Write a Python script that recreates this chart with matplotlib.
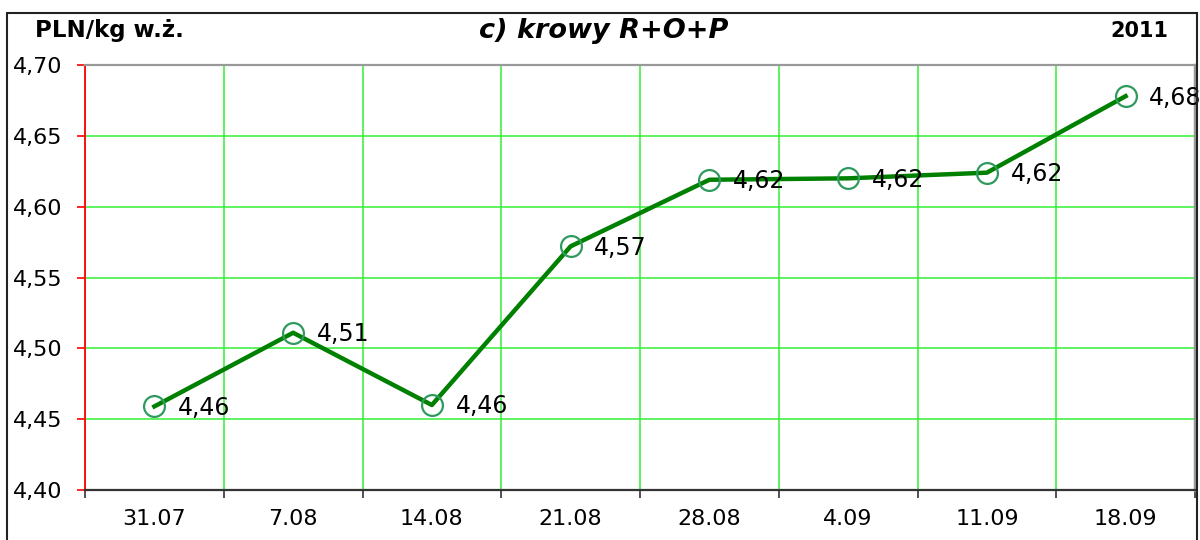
import matplotlib
matplotlib.use("Agg")
import matplotlib.pyplot as plt
from matplotlib.patches import Rectangle
from matplotlib.ticker import FuncFormatter

plt.rcParams['font.family'] = ['DejaVu Sans']

dates = ['31.07', '7.08', '14.08', '21.08', '28.08', '4.09', '11.09', '18.09']
prices = [4.459, 4.511, 4.460, 4.572, 4.619, 4.620, 4.624, 4.678]
labels = ['4,46', '4,51', '4,46', '4,57', '4,62', '4,62', '4,62', '4,68']

fig = plt.figure(figsize=(12, 5.4), dpi=100)
ax = fig.add_axes([85 / 1200, 1 - 490 / 540, 1110 / 1200, 425 / 540])

# outer frame
fig.patches.append(Rectangle((7 / 1200, -0.05), 1190 / 1200, 1.05 - 13 / 540,
                             transform=fig.transFigure, fill=False,
                             edgecolor='#222222', linewidth=1.5))

x = list(range(len(dates)))
ax.plot(x, prices, color='#008000', linewidth=3.2, zorder=3)
ax.plot(x, prices, linestyle='none', marker='o', markersize=15,
        markerfacecolor='none', markeredgecolor='#2e9a5e', markeredgewidth=1.6, zorder=4)
for xi, yi, lab in zip(x, prices, labels):
    ax.annotate(lab, (xi, yi), xytext=(17, -1), textcoords='offset points',
                ha='left', va='center', fontsize=17, color='black', zorder=5)

ax.set_xlim(-0.5, len(dates) - 0.5)
ax.set_ylim(4.40, 4.70)
ax.set_yticks([4.40, 4.45, 4.50, 4.55, 4.60, 4.65, 4.70])
ax.yaxis.set_major_formatter(FuncFormatter(lambda v, p: f'{v:.2f}'.replace('.', ',')))

ax.set_xticks([i - 0.5 for i in range(len(dates) + 1)])
ax.set_xticklabels([])
ax.set_xticks(x, minor=True)
ax.set_xticklabels(dates, minor=True)
ax.tick_params(axis='x', which='minor', length=0, pad=14, labelsize=16)
ax.tick_params(axis='x', which='major', length=6, width=1.2, color='#333333', direction='out')
ax.tick_params(axis='y', length=6, width=1.2, color='red', direction='out', pad=10, labelsize=16)

ax.grid(True, which='major', color='#33f033', linewidth=1.1, zorder=0)
ax.set_axisbelow(True)

ax.spines['left'].set_color('red')
ax.spines['left'].set_linewidth(1.3)
ax.spines['bottom'].set_color('#333333')
ax.spines['bottom'].set_linewidth(1.6)
ax.spines['top'].set_color('#999999')
ax.spines['top'].set_linewidth(1.6)
ax.spines['right'].set_color('#999999')
ax.spines['right'].set_linewidth(2.5)

fig.text(35 / 1200, 1 - 31 / 540, 'PLN/kg w.ż.', fontsize=16.5, fontweight='bold',
         ha='left', va='center')
fig.text(604 / 1200, 1 - 31 / 540, 'c) krowy R+O+P', fontsize=19.5, fontweight='bold',
         fontstyle='italic', ha='center', va='center')
fig.text(1168 / 1200, 1 - 31 / 540, '2011', fontsize=15, fontweight='bold',
         ha='right', va='center')

fig.savefig('out.png', dpi=100)
